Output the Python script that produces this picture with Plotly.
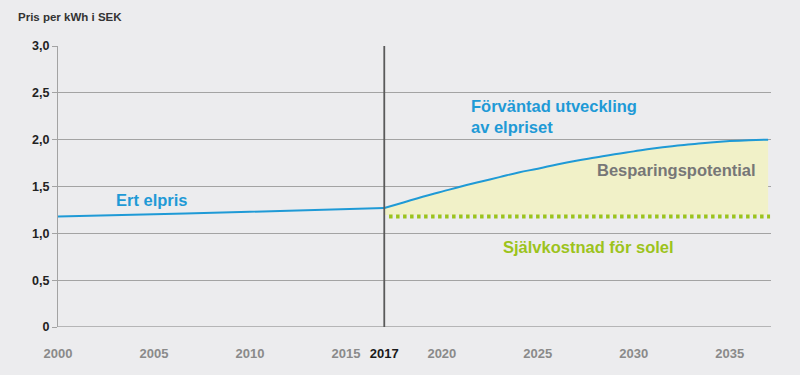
import plotly.graph_objects as go

# Data
hist_years = [2000, 2005, 2010, 2017]
hist_price = [1.18, 1.205, 1.23, 1.27]

fc_years = [2017, 2018, 2019, 2020, 2021, 2022, 2023, 2024, 2025, 2026, 2027,
            2028, 2029, 2030, 2031, 2032, 2033, 2034, 2035, 2036, 2037]
fc_price = [1.27, 1.33, 1.39, 1.445, 1.50, 1.55, 1.60, 1.65, 1.69, 1.735, 1.775,
            1.81, 1.845, 1.875, 1.905, 1.93, 1.95, 1.97, 1.985, 1.995, 2.0]

solar_years = [2017, 2037]
solar_cost = [1.18, 1.18]
fill_base = [1.195, 1.195]

x_ticks = [2000, 2005, 2010, 2015, 2017, 2020, 2025, 2030, 2035]
x_tick_labels = ["2000", "2005", "2010", "2015", "2017", "2020", "2025", "2030", "2035"]
y_ticks = [0, 0.5, 1.0, 1.5, 2.0, 2.5, 3.0]
y_tick_labels = ["0", "0,5", "1,0", "1,5", "2,0", "2,5", "3,0"]

BLUE = "#1f9ad6"
GREEN = "#9cc31c"
FILL = "#f1f1c8"
BG = "#ececee"
GRAY = "#8a8a8a"
FONT = "Liberation Sans, Arial, sans-serif"

fig = go.Figure()

fig.add_trace(go.Scatter(x=solar_years, y=fill_base, mode="lines",
                         line=dict(width=0, color=FILL), hoverinfo="skip", showlegend=False))
fig.add_trace(go.Scatter(x=fc_years, y=fc_price, mode="lines", fill="tonexty", fillcolor=FILL,
                         line=dict(color=BLUE, width=2, shape="spline", smoothing=1.3),
                         showlegend=False))
fig.add_trace(go.Scatter(x=hist_years, y=hist_price, mode="lines",
                         line=dict(color=BLUE, width=2, shape="spline"), showlegend=False))
fig.add_trace(go.Scatter(x=[solar_years[0] + 0.25, solar_years[1] + 0.1], y=solar_cost, mode="lines",
                         line=dict(color=GREEN, width=4, dash="3.5px,3.5px"), showlegend=False))

fig.add_shape(type="line", x0=2017, x1=2017, y0=0, y1=3.0, xref="x", yref="y",
              line=dict(color="#5a5a5a", width=1.8), layer="above")

ticktext = [f"<b>{t}</b>" if t != "2017" else "<b><span style='color:#1a1a1a'>2017</span></b>"
            for t in x_tick_labels]

fig.update_layout(
    width=800, height=375,
    margin=dict(l=58, r=29, t=46, b=48),
    paper_bgcolor=BG, plot_bgcolor=BG,
    font=dict(family=FONT, size=12),
    xaxis=dict(range=[2000, 2037.15], tickvals=x_ticks, ticktext=ticktext,
               tickfont=dict(color=GRAY, size=13, family=FONT),
               showgrid=False, zeroline=False, showline=False,
               ticks="outside", ticklen=14, tickcolor=BG, fixedrange=True),
    yaxis=dict(range=[0, 3.0], tickvals=y_ticks,
               ticktext=[f"<b>{t}</b>" for t in y_tick_labels],
               tickfont=dict(color="#222222", size=12.5, family=FONT),
               showgrid=True, gridcolor="#a3a3a3", gridwidth=1,
               zeroline=False, showline=True, linecolor="#a3a3a3", linewidth=1,
               ticks="outside", ticklen=5, tickcolor="#a3a3a3", fixedrange=True),
)

# bottom axis line
fig.add_shape(type="line", xref="paper", yref="y", x0=0, x1=1, y0=0, y1=0,
              line=dict(color="#a3a3a3", width=1.5), layer="below")

base = dict(xref="x", yref="y", showarrow=False)
fig.add_annotation(x=2002.9, y=1.356, text="<b>Ert elpris</b>", xanchor="left",
                   font=dict(family=FONT, size=16.5, color=BLUE), **base)
fig.add_annotation(x=2021.4, y=2.25, text="<b>Förväntad utveckling<br>av elpriset</b>",
                   xanchor="left", align="left",
                   font=dict(family=FONT, size=16.5, color=BLUE), **base)
fig.add_annotation(x=2036.45, y=1.676, text="<b>Besparingspotential</b>", xanchor="right",
                   font=dict(family=FONT, size=16.5, color="#777777"), **base)
fig.add_annotation(x=2023.1, y=0.857, text="<b>Självkostnad för solel</b>", xanchor="left",
                   font=dict(family=FONT, size=16.5, color=GREEN), **base)
fig.add_annotation(xref="paper", yref="paper", x=-42/713, y=1 + 29/281, xanchor="left",
                   yanchor="middle", showarrow=False, text="<b>Pris per kWh i SEK</b>",
                   font=dict(family=FONT, size=11.5, color="#333333"))

fig.write_html("out.html", config={"displayModeBar": False},
               post_script="document.body.style.margin='0';")
